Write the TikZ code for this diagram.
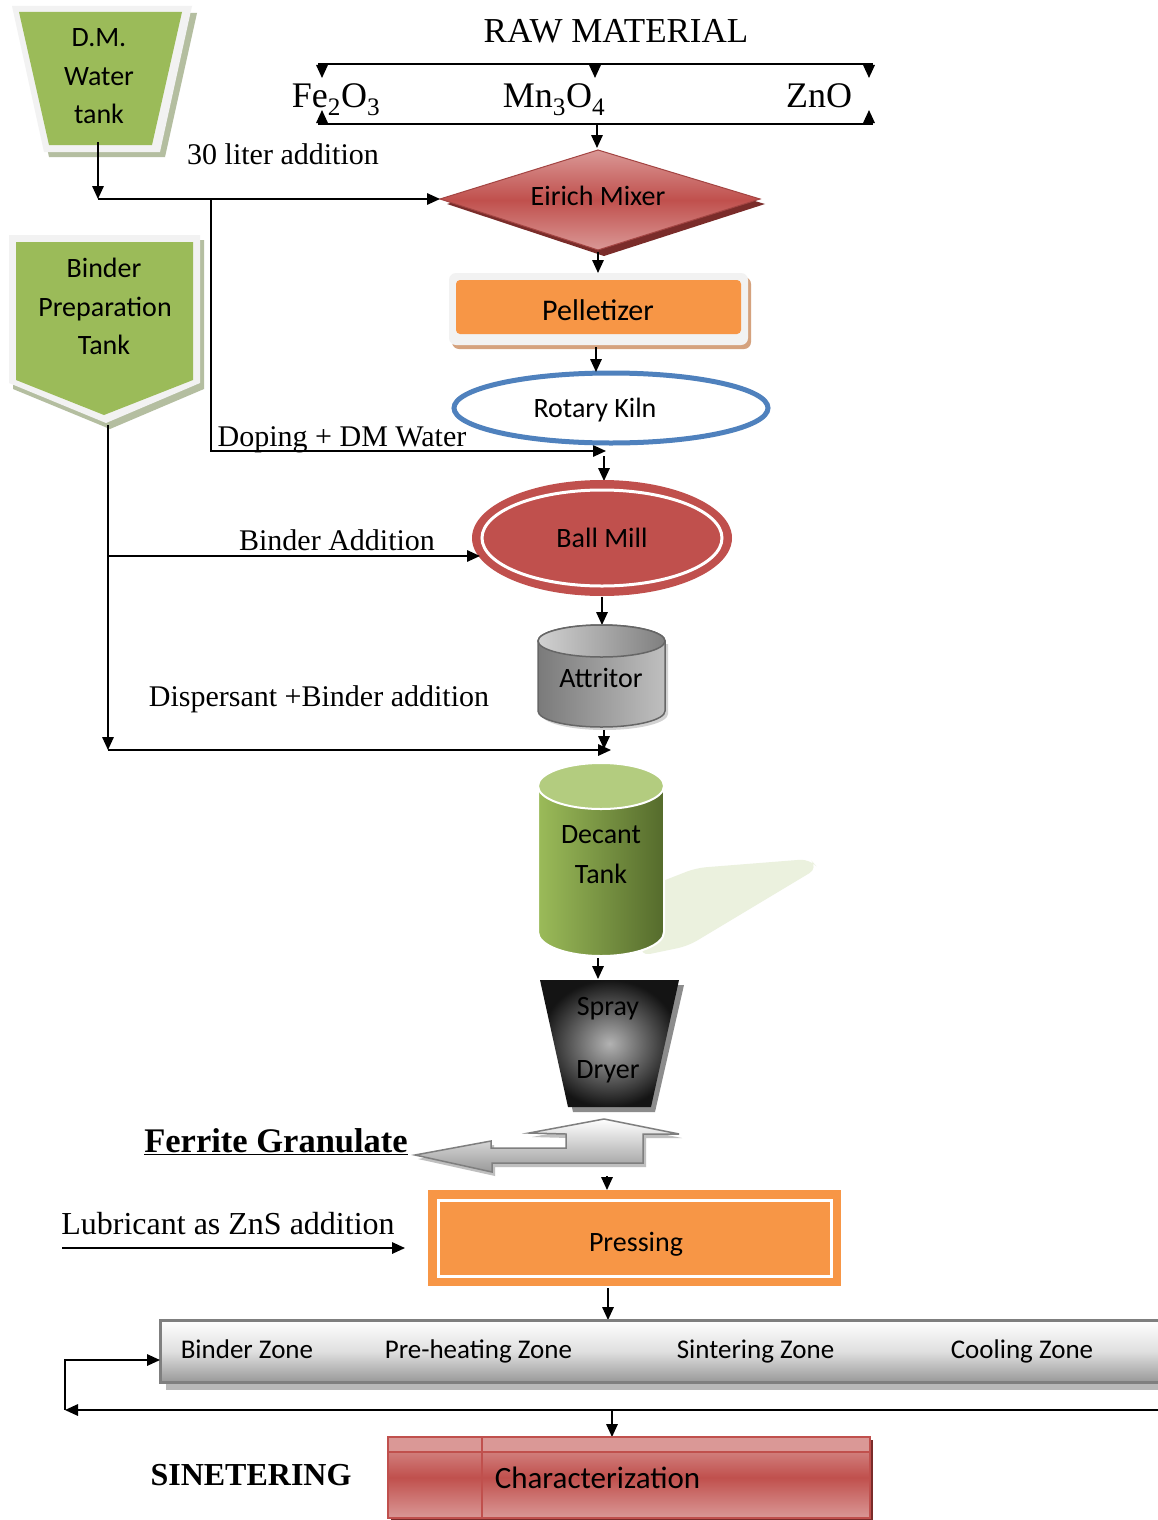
\documentclass[tikz,border=0pt]{standalone}
\usepackage{fontspec}
\setmainfont{Liberation Serif}
\newfontfamily\calib{Carlito}
\usetikzlibrary{arrows.meta,shapes.geometric,calc}
\definecolor{grn}{HTML}{9BBB59}
\definecolor{grnshadow}{HTML}{B4BEA0}
\definecolor{brd}{HTML}{F2F2F2}
\definecolor{rd}{HTML}{C0504D}
\definecolor{lrd}{HTML}{DA9896}
\definecolor{drd}{HTML}{7A2C2A}
\definecolor{org}{HTML}{F79646}
\definecolor{orgshadow}{HTML}{D5A27E}
\definecolor{blu}{HTML}{4F81BD}
\definecolor{dgrn}{HTML}{556B2C}
\definecolor{tgrn}{HTML}{B3CC7F}
\definecolor{pgrn}{HTML}{EBF1DE}
\definecolor{gr}{HTML}{7F7F7F}
\begin{document}
\begin{tikzpicture}[x=1pt,y=-1pt,line width=1.6pt,
  arr/.style={-{Triangle[length=13pt,width=11.5pt]}},
  sans/.style={font=\calib\fontsize{28}{34}\selectfont,inner sep=0pt,anchor=base},
  serif/.style={font=\fontsize{30}{36}\selectfont,inner sep=0pt,anchor=base},
  chem/.style={font=\fontsize{36}{40}\selectfont,inner sep=0pt,anchor=base},
  boldt/.style={font=\bfseries\fontsize{34.5}{40}\selectfont,inner sep=0pt,anchor=base}]
\useasboundingbox (0,0) rectangle (1157,1520);
\fill[white] (0,0) rectangle (1157,1520);

% ---------- D.M. water tank
\fill[grnshadow] (19,13) -- (197,13) -- (165,157) -- (49,157) -- cycle;
\fill[brd] (12,6) -- (192,6) -- (160,152) -- (44,152) -- cycle;
\fill[grn] (19,12) -- (182,12) -- (152,145) -- (49,145) -- cycle;
\node[sans] (dm1) at (99,47) {D.M.};
\node[sans] (dm2) at (99,85) {Water};
\node[sans] (dm3) at (99,123) {tank};

% ---------- raw material
\node[font=\fontsize{35}{40}\selectfont,inner sep=0pt,anchor=base] (raw) at (616,43) {RAW MATERIAL};
\coordinate (tl) at (318,64); \coordinate (tr) at (873,64);
\coordinate (bl) at (318,124); \coordinate (br) at (873,124);
\draw (tl) -- (tr);
\draw (bl) -- (br);
\foreach \x in {322,595,869} \draw[arr] (\x,64) -- (\x,78);
\foreach \x in {322,869} \draw[arr] (\x,124) -- (\x,110);
\node[chem] (fe) at (336,107) {Fe\textsubscript{2}O\textsubscript{3}};
\node[chem] (mn) at (554,107) {Mn\textsubscript{3}O\textsubscript{4}};
\node[chem] (zno) at (819,107) {ZnO};
\node[serif] (lit) at (283,164) {30 liter addition};

% ---------- Eirich mixer
\fill[drd] (447,204) -- (604,157) -- (765,204) -- (604,256) -- cycle;
\shade[top color=lrd,bottom color=lrd,middle color=rd] (440,199) -- (598,150) -- (760,199) -- (598,250) -- cycle;
\draw[rd!85!black,line width=1pt] (440,199) -- (598,150) -- (760,199) -- (598,250) -- cycle;
\node[sans] (mix) at (598,205) {Eirich Mixer};
\coordinate (mixL) at (440,199);
\coordinate (mixT) at (597,148);
\coordinate (mixB) at (598,252);
\coordinate (rawout) at (597,124);
\draw[arr] (rawout) -- (mixT);

% water connections
\coordinate (dmout) at (98,142);
\coordinate (j1) at (98,199);
\coordinate (j2) at (211,199);
\coordinate (dopEnd) at (606,451);
\draw[arr] (dmout) -- (j1);
\draw[arr] (j1) -- (mixL);
\draw[arr] (j2) |- (dopEnd);

% ---------- pelletizer
\fill[orgshadow,rounded corners=7] (452,277) rectangle (751,349);
\fill[brd,rounded corners=7] (449,273) rectangle (748,345);
\fill[org,rounded corners=4] (456,280) rectangle (741,334);
\node[sans,font=\calib\fontsize{30}{36}\selectfont] (pel) at (598,320) {Pelletizer};
\coordinate (pelT) at (598,273);
\coordinate (pelB) at (596,347);
\draw[arr] (mixB) -- (pelT);

% ---------- rotary kiln
\draw[blu,line width=5pt,fill=white] (611,408) ellipse [x radius=157,y radius=35];
\node[sans] (kiln) at (595,417) {Rotary Kiln};
\coordinate (kilnT) at (596,372);
\draw[arr] (pelB) -- (kilnT);
\node[serif] (dop) at (342,446) {Doping + DM Water};

% ---------- ball mill
\coordinate (kilnB) at (604,456);
\coordinate (bmT) at (604,481);
\draw[arr] (kilnB) -- (bmT);
\fill[rd] (602,538) ellipse [x radius=130,y radius=58];
\draw[white,line width=3pt] (602,538) ellipse [x radius=120,y radius=48];
\node[sans] (bm) at (602,547) {Ball Mill};

% ---------- binder preparation tank
\fill[grnshadow] (13,240) -- (204,240) -- (204,389) -- (110,429) -- (13,389) -- cycle;
\fill[brd] (9,235) -- (200,235) -- (200,383) -- (106,423) -- (9,383) -- cycle;
\fill[grn] (16,242) -- (193,242) -- (193,380) -- (104,415) -- (16,380) -- cycle;
\node[sans] (bt1) at (104,277) {Binder};
\node[sans] (bt2) at (105,316) {Preparation};
\node[sans] (bt3) at (104,354) {Tank};

\coordinate (btout) at (108,425);
\coordinate (j3) at (108,556);
\coordinate (bmL) at (480,556);
\coordinate (j4) at (108,750);
\coordinate (decIn) at (611,750);
\draw (btout) -- (j3);
\draw[arr] (j3) -- (j4);
\draw[arr] (j3) -- (bmL);
\draw[arr] (j4) -- (decIn);
\node[serif] (ba) at (337,550) {Binder Addition};
\node[serif] (dis) at (319,706) {Dispersant +Binder addition};

% ---------- attritor
\coordinate (bmB) at (602,597);
\coordinate (atT) at (602,625);
\draw[arr] (bmB) -- (atT);
\fill[gray!35] (541,644) -- (541,714) arc[start angle=180,end angle=0,x radius=63.5,y radius=16] -- (668,644) -- cycle;
\shade[left color=black!52,middle color=black!18,right color=black!25,draw=black!60,line width=1.5pt]
  (538,641) -- (538,711) arc[start angle=180,end angle=0,x radius=63.5,y radius=16]
  -- (665,641) arc[start angle=0,end angle=-180,x radius=63.5,y radius=16] -- cycle;
\shade[left color=black!18,right color=black!50,draw=black!60,line width=1.5pt] (601.5,641) ellipse [x radius=63.5,y radius=16];
\node[sans] (att) at (601,687) {Attritor};
\coordinate (atB) at (604,730);
\coordinate (atE) at (604,749);
\draw[arr] (atB) -- (atE);

% ---------- decant tank
\fill[pgrn,rounded corners=10] (650,886) -- (696,868) -- (810,859) -- (818,868) -- (688,946) -- (640,956) -- cycle;
\shade[left color=grn,right color=dgrn,draw=white,line width=2pt]
  (538,786) -- (538,932) arc[start angle=180,end angle=0,x radius=63,y radius=24]
  -- (664,786) arc[start angle=0,end angle=-180,x radius=63,y radius=24] -- cycle;
\fill[tgrn,draw=white,line width=2pt] (601,786) ellipse [x radius=63,y radius=23];
\node[sans] (dec1) at (601,843) {Decant};
\node[sans] (dec2) at (601,883) {Tank};
\coordinate (decB) at (598,958);
\coordinate (spT) at (598,979);
\draw[arr] (decB) -- (spT);

% ---------- spray dryer
\fill[black!45] (545,985) -- (684,985) -- (655,1112) -- (573,1112) -- cycle;
\shade[inner color=black!30,outer color=black!92] (540,980) -- (679,980) -- (651,1107) -- (568,1107) -- cycle;
\node[sans] (sp1) at (608,1015) {Spray};
\node[sans] (sp2) at (608,1078) {Dryer};

% ---------- ferrite granulate arrow
\fill[black!25] (418,1159) -- (494,1145) -- (494,1152) -- (569,1152) -- (569,1138) -- (532,1137) -- (607,1123) -- (682,1138) -- (646,1138) -- (646,1167) -- (495,1167) -- (495,1176) -- cycle;
\shade[top color=white,bottom color=black!40,draw=gr,line width=1.5pt]
  (415,1155) -- (491,1141) -- (491,1148) -- (566,1148) -- (566,1134) -- (529,1133) -- (604,1119)
  -- (679,1134) -- (643,1134) -- (643,1163) -- (492,1163) -- (492,1172) -- cycle;
\coordinate (fgtip) at (415,1155);
\node[boldt] (fg) at (276,1152) {\underline{Ferrite Granulate}};
\coordinate (fgB) at (607,1176);
\coordinate (prT) at (607,1190);
\draw[arr] (fgB) -- (prT);

% ---------- pressing
\fill[org] (428,1190) rectangle (841,1286);
\draw[white,line width=3pt] (438,1200) rectangle (831,1276);
\node[sans] (pr) at (636,1251) {Pressing};
\node[font=\fontsize{32}{36}\selectfont,inner sep=0pt,anchor=base] (lub) at (228,1234) {Lubricant as ZnS addition};
\coordinate (lubL) at (62,1248);
\coordinate (lubR) at (405,1248);
\draw[arr] (lubL) -- (lubR);
\coordinate (prB) at (608,1288);
\coordinate (znT) at (608,1320);
\draw[arr] (prB) -- (znT);

% ---------- zones
\fill[black!28] (166,1326) rectangle (1170,1390);
\shade[top color=white,bottom color=black!40,middle color=black!12] (160,1320) rectangle (1170,1382);
\draw[gr,line width=3pt] (160,1320) rectangle (1170,1382);
\node[sans,anchor=base west,font=\calib\fontsize{27}{32}\selectfont] (z1) at (180,1358) {Binder Zone};
\node[sans,anchor=base west,font=\calib\fontsize{27}{32}\selectfont] (z2) at (384,1358) {Pre-heating Zone};
\node[sans,anchor=base west,font=\calib\fontsize{27}{32}\selectfont] (z3) at (676,1358) {Sintering Zone};
\node[sans,anchor=base west,font=\calib\fontsize{27}{32}\selectfont] (z4) at (950,1358) {Cooling Zone};

\coordinate (fbR) at (1165,1410);
\coordinate (fbL) at (65,1410);
\coordinate (znL) at (160,1360);
\draw[arr] (fbR) -- (fbL);
\draw[arr] (fbL) |- (znL);
\coordinate (fbM) at (612,1410);
\coordinate (chT) at (612,1437);
\draw[arr] (fbM) -- (chT);

% ---------- characterization
\fill[drd] (391,1440) rectangle (873,1521);
\shade[top color=lrd,bottom color=lrd,middle color=rd] (388,1437) rectangle (870,1518);
\fill[lrd] (388,1437) rectangle (870,1452);
\draw[rd,line width=2pt] (388,1437) rectangle (870,1518);
\draw[rd,line width=2pt] (482,1437) -- (482,1518);
\draw[rd,line width=2pt] (388,1452) -- (870,1452);
\node[sans,anchor=base west,font=\calib\fontsize{31}{34}\selectfont] (ch) at (494,1488) {Characterization};
\node[boldt,font=\bfseries\fontsize{32}{36}\selectfont] (sin) at (251,1485) {SINETERING};
\end{tikzpicture}
\end{document}
